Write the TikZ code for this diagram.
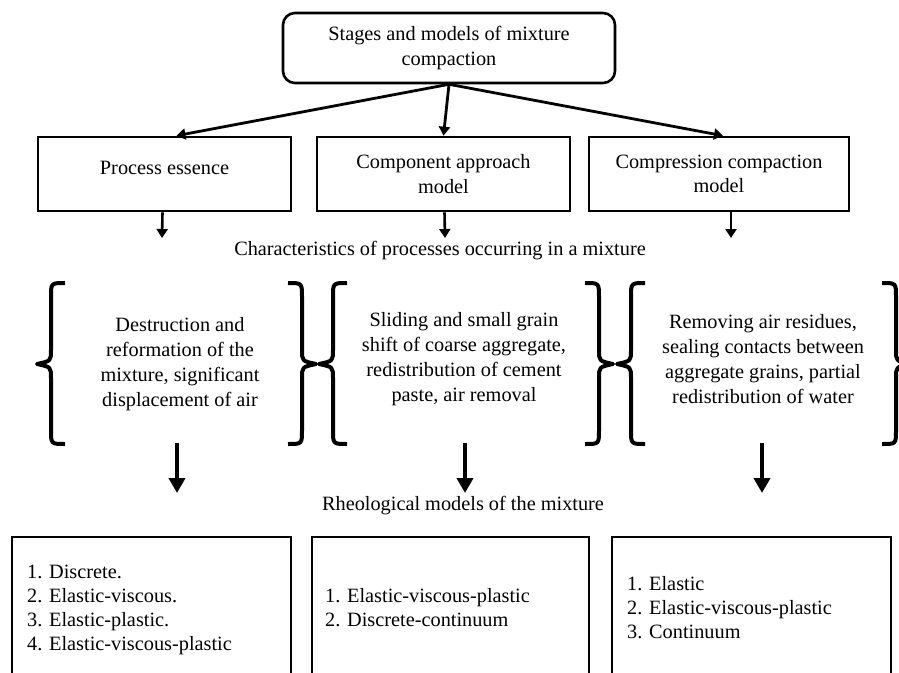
\documentclass[tikz,border=0pt]{standalone}
\usepackage{fontspec}
\setmainfont{Liberation Serif}
\usetikzlibrary{arrows.meta,calc}
\newcommand{\mybrace}[6]{%
  \draw[bracestyle] (#1,#4) .. controls (#2,#4) .. (#2,{#4+14}) -- (#2,{#5-14})
    .. controls (#2,{#5-3}) .. (#3,#5) .. controls (#2,{#5+3}) .. (#2,{#5+14})
    -- (#2,{#6-14}) .. controls (#2,#6) .. (#1,#6);}
\begin{document}
\begin{tikzpicture}[x=1pt,y=-1pt,
  txt/.style={font=\fontsize{20.3}{24.5}\selectfont,text=black},
  box/.style={txt,draw,line width=2.6pt,minimum width=#1,minimum height=74pt,inner sep=0pt,align=center},
  bbox/.style={draw,line width=2.6pt,minimum width=#1,minimum height=220pt,inner sep=0pt},
  grp/.style={txt,align=center,font=\fontsize{20.3}{25}\selectfont},
  lst/.style={txt,align=left,anchor=north west,inner sep=0pt,font=\fontsize{20.3}{24}\selectfont},
  toparr/.style={line width=2.8pt,-{Triangle[width=11pt,length=9pt]}},
  smallarr/.style={line width=2.6pt,-{Triangle[width=11pt,length=9pt]}},
  bigarr/.style={line width=4.5pt,-{Triangle[width=16pt,length=15pt]}},
  bracestyle/.style={line width=4pt,line join=round}]
\useasboundingbox (0,0) rectangle (899,672);
\clip (0,0) rectangle (899,672);
% top
\node[txt,draw,line width=2.6pt,rounded corners=12pt,minimum width=332pt,minimum height=70pt,align=center,inner sep=0pt] (top) at (449,48) {Stages and models of mixture\\compaction};
% middle boxes
\node[box=253pt,text depth=12pt] (b1) at (164.5,174) {Process essence};
\node[box=253pt] (b2) at (443.5,174) {Component approach\\model};
\node[box=260pt] (b3) at (719,174) {Compression compaction\\model};
\coordinate (t1) at ($(b1.north)+(12,0)$);
\coordinate (t3) at ($(b3.north)+(4,0)$);
\draw[toparr] (top.south) -- (t1);
\draw[toparr] (top.south) -- (b2.north);
\draw[toparr] (top.south) -- (t3);
% characteristics
\node[txt] (char) at (440,251) {Characteristics of processes occurring in a mixture};
\coordinate (s1) at ($(b1.south)+(-2,0)$);
\coordinate (s2) at ($(b2.south)+(1,0)$);
\coordinate (s3) at ($(b3.south)+(12,0)$);
\coordinate (e1) at (162,238);
\coordinate (e2) at (445,238);
\coordinate (e3) at (731,238);
\draw[smallarr] (s1) -- (e1);
\draw[smallarr] (s2) -- (e2);
\draw[smallarr] (s3) -- (e3);
% braces
\mybrace{65}{51}{37}{283}{364}{444}
\mybrace{288}{302}{316}{283}{364}{444}
\mybrace{347}{333}{319}{283}{364}{444}
\mybrace{585}{599}{613}{283}{364}{444}
\mybrace{645}{631}{617}{283}{364}{444}
\mybrace{882}{896}{910}{283}{364}{444}
\node[grp] (g1) at (180,364) {Destruction and\\reformation of the\\mixture, significant\\displacement of air};
\node[grp] (g2) at (464,359) {Sliding and small grain\\shift of coarse aggregate,\\redistribution of cement\\paste, air removal};
\node[grp] (g3) at (763,359) {Removing air residues,\\sealing contacts between\\aggregate grains, partial\\redistribution of water};
\coordinate (u1) at (177,443);
\coordinate (u2) at (465,443);
\coordinate (u3) at (762,443);
\coordinate (v1) at (177,493);
\coordinate (v2) at (465,493);
\coordinate (v3) at (762,493);
\draw[bigarr] (u1) -- (v1);
\draw[bigarr] (u2) -- (v2);
\draw[bigarr] (u3) -- (v3);
\node[txt] (rheo) at (463,506) {Rheological models of the mixture};
% bottom boxes
\node[bbox=279pt] (r1) at (151.5,647) {};
\node[bbox=277pt] (r2) at (450.5,647) {};
\node[bbox=279pt] (r3) at (751.5,647) {};
\node[lst] (l1) at (27,565) {1. Discrete.\\2. Elastic-viscous.\\3. Elastic-plastic.\\4. Elastic-viscous-plastic};
\node[lst] (l2) at (325,588) {1. Elastic-viscous-plastic\\2. Discrete-continuum};
\node[lst] (l3) at (627,576) {1. Elastic\\2. Elastic-viscous-plastic\\3. Continuum};
\end{tikzpicture}
\end{document}
